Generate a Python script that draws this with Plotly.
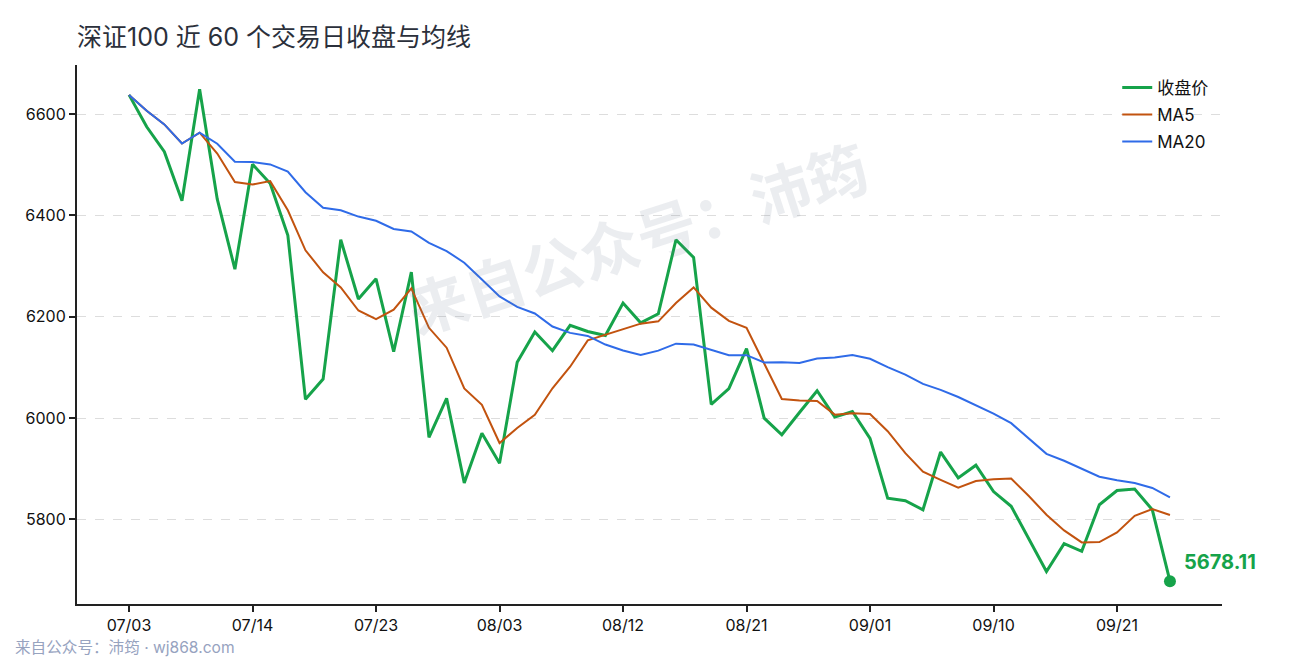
import plotly.graph_objects as go

# 深证100 近 60 个交易日
tick_labels = ["07/03", "07/14", "07/23", "08/03", "08/12", "08/21", "09/01", "09/10", "09/21"]
tick_index = [0, 7, 14, 21, 28, 35, 42, 49, 56]

close = [
    6638, 6575, 6526, 6429, 6649, 6432, 6294, 6501, 6463, 6361,
    6037, 6077, 6352, 6235, 6275, 6131, 6288, 5962, 6039, 5872,
    5970, 5911, 6110, 6170, 6133, 6183, 6171, 6163, 6227, 6188,
    6206, 6352, 6317, 6027, 6058, 6137, 6000, 5967, 6011, 6054,
    6002, 6013, 5960, 5842, 5837, 5819, 5933, 5882, 5907, 5855,
    5826, 5761, 5697, 5752, 5737, 5829, 5857, 5860, 5819, 5678.11,
]
ma5 = [
    6638.0, 6606.5, 6579.7, 6542.0, 6563.4, 6522.2, 6466.0, 6461.0, 6467.8, 6410.2,
    6331.2, 6287.8, 6258.0, 6212.4, 6195.2, 6214.0, 6256.2, 6178.2, 6139.0, 6058.4,
    6026.2, 5950.8, 5980.4, 6006.6, 6058.8, 6101.4, 6153.4, 6164.0, 6175.4, 6186.4,
    6191.0, 6227.2, 6258.0, 6218.0, 6192.0, 6178.2, 6107.8, 6037.8, 6034.6, 6033.8,
    6006.8, 6009.4, 6008.0, 5974.2, 5930.8, 5894.2, 5878.2, 5862.6, 5875.6, 5879.2,
    5880.6, 5846.2, 5809.2, 5778.2, 5754.6, 5755.2, 5774.4, 5807.0, 5820.4, 5808.6,
]
ma20 = [
    6638.0, 6606.5, 6579.7, 6542.0, 6563.4, 6541.5, 6506.1, 6505.5, 6500.8, 6486.8,
    6445.9, 6415.2, 6410.3, 6397.8, 6389.6, 6373.4, 6368.4, 6345.8, 6329.7, 6306.8,
    6273.4, 6240.2, 6219.4, 6206.5, 6180.7, 6168.2, 6162.1, 6145.2, 6133.4, 6124.7,
    6133.2, 6146.9, 6145.2, 6134.8, 6123.9, 6124.2, 6109.8, 6110.1, 6108.7, 6117.8,
    6119.4, 6124.5, 6117.0, 6100.6, 6085.8, 6067.6, 6055.7, 6041.6, 6025.6, 6009.0,
    5990.0, 5960.4, 5929.4, 5915.7, 5899.6, 5884.2, 5877.1, 5871.7, 5862.1, 5843.3,
]
x = list(range(len(close)))

GREEN = "#16a34a"
ORANGE = "#c2530f"
BLUE = "#2f6be8"
FONT = "Inter, Noto Sans CJK SC"

fig = go.Figure()
fig.add_trace(go.Scatter(x=x, y=close, name="收盘价", mode="lines", legendgroup="c",
                         line=dict(color=GREEN, width=3)))
fig.add_trace(go.Scatter(x=x, y=ma5, name="MA5", mode="lines", legendgroup="m5",
                         line=dict(color=ORANGE, width=2)))
fig.add_trace(go.Scatter(x=x, y=ma20, name="MA20", mode="lines", legendgroup="m20",
                         line=dict(color=BLUE, width=2)))
# last close marker
fig.add_trace(go.Scatter(x=[x[-1]], y=[close[-1]], mode="markers", showlegend=False,
                         marker=dict(color=GREEN, size=12), hoverinfo="skip"))

fig.add_annotation(x=x[-1], y=close[-1], text=f"<b>{close[-1]:.2f}</b>",
                   showarrow=False, xanchor="left", yanchor="middle",
                   xshift=12, yshift=19, font=dict(family=FONT, size=20, color=GREEN))

# watermark
fig.add_annotation(xref="paper", yref="paper", x=0.490, y=0.676,
                   xanchor="center", yanchor="middle",
                   text="<b>来自公众号：沛筠</b>", showarrow=False, textangle=-18,
                   font=dict(family=FONT, size=60, color="rgba(100,116,139,0.13)"))

# footer
fig.add_annotation(xref="paper", yref="paper", x=-0.0559, y=-0.0816,
                   xanchor="left", yanchor="middle", showarrow=False,
                   text="来自公众号：沛筠 · wj868.com",
                   font=dict(family=FONT, size=15.6, color="#97a3bf"))

fig.update_layout(
    width=1290, height=660,
    paper_bgcolor="white", plot_bgcolor="white",
    margin=dict(l=69, r=76, t=57, b=64),
    font=dict(family=FONT, size=16, color="#111"),
    title=dict(text="深证100 近 60 个交易日收盘与均线", x=69 / 1290, xanchor="left",
               y=1 - 29 / 660, yanchor="middle",
               font=dict(family=FONT, size=25, color="#2b303b")),
    legend=dict(x=0.9085, y=0.991, xanchor="left", yanchor="top",
                bgcolor="rgba(0,0,0,0)", font=dict(size=17, color="#111"),
                tracegroupgap=2),
    showlegend=True,
)
fig.update_xaxes(range=[-2.95, 61.95], tickvals=tick_index, ticktext=tick_labels,
                 showline=True, linecolor="#222", linewidth=2, showgrid=False,
                 ticks="outside", ticklen=6, tickwidth=2, tickcolor="#222",
                 zeroline=False)
fig.update_yaxes(range=[5633, 6697], tickvals=[5800, 6000, 6200, 6400, 6600],
                 showline=True, linecolor="#222", linewidth=2,
                 ticks="outside", ticklen=6, tickwidth=2, tickcolor="#222",
                 showgrid=True, gridcolor="#dddddd", griddash="dash", gridwidth=1,
                 zeroline=False)

fig.write_html("out.html")
